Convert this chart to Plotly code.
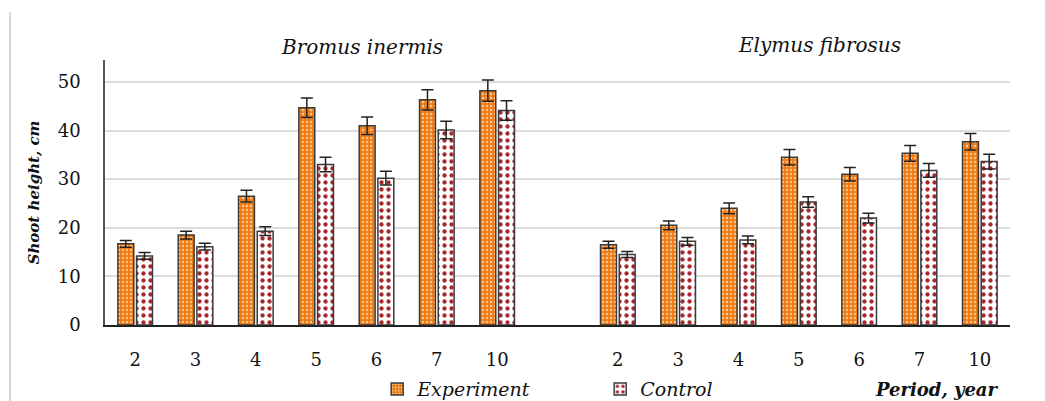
import plotly.graph_objects as go

periods = ["2", "3", "4", "5", "6", "7", "10"]
species = ["Bromus inermis", "Elymus fibrosus"]

bromus_exp = [16.7, 18.5, 26.5, 44.7, 41.0, 46.3, 48.2]
bromus_ctrl = [14.2, 16.1, 19.3, 33.0, 30.2, 40.1, 44.1]
elymus_exp = [16.5, 20.5, 24.0, 34.5, 31.0, 35.3, 37.7]
elymus_ctrl = [14.5, 17.2, 17.5, 25.3, 22.0, 31.8, 33.6]

bromus_exp_err = [0.7, 0.8, 1.2, 2.0, 1.8, 2.1, 2.2]
bromus_ctrl_err = [0.7, 0.7, 0.9, 1.5, 1.4, 1.8, 2.0]
elymus_exp_err = [0.7, 0.9, 1.1, 1.6, 1.4, 1.6, 1.7]
elymus_ctrl_err = [0.6, 0.8, 0.8, 1.1, 1.0, 1.4, 1.5]

# category positions: 7 Bromus slots, one empty slot, 7 Elymus slots
n = len(periods)
x_bromus = list(range(n))
x_elymus = [n + 1 + i for i in range(n)]
x_all = x_bromus + x_elymus
tick_text = periods + periods

exp_vals = bromus_exp + elymus_exp
ctrl_vals = bromus_ctrl + elymus_ctrl
exp_err = bromus_exp_err + elymus_exp_err
ctrl_err = bromus_ctrl_err + elymus_ctrl_err

serif = "DejaVu Serif"

fig = go.Figure()
fig.add_trace(go.Bar(
    x=x_all, y=exp_vals, name="Experiment",
    marker=dict(color="#F07A12",
                line=dict(color="#3a3a3a", width=1.5),
                pattern=dict(shape=".", fgcolor="#FBC58C", bgcolor="#F07A12",
                             size=4, solidity=0.3, fillmode="replace")),
    error_y=dict(type="data", array=exp_err, visible=True,
                 color="#222222", thickness=1.5, width=6),
))
fig.add_trace(go.Bar(
    x=x_all, y=ctrl_vals, name="Control",
    marker=dict(color="#FFFFFF",
                line=dict(color="#3a3a3a", width=1.5),
                pattern=dict(shape=".", fgcolor="#A8282E", bgcolor="#FFFFFF",
                             size=7, solidity=0.3, fillmode="replace")),
    error_y=dict(type="data", array=ctrl_err, visible=True,
                 color="#222222", thickness=1.5, width=6),
))

fig.update_layout(
    width=1037, height=393,
    margin=dict(l=97, r=35, t=52, b=76),
    paper_bgcolor="white", plot_bgcolor="white",
    barmode="group", bargap=0.38, bargroupgap=0.15,
    font=dict(family=serif, size=18, color="#111111"),
    showlegend=True,
    legend=dict(orientation="h", xref="container", yref="container",
                x=0.356, y=0.03, xanchor="left", yanchor="middle",
                font=dict(family=serif, size=19, style="italic"),
                itemwidth=30, entrywidthmode="pixels", entrywidth=178,
                bgcolor="rgba(0,0,0,0)"),
    xaxis=dict(range=[-0.5, 2 * n + 0.5], tickmode="array", tickvals=x_all,
               ticktext=tick_text, showgrid=False, ticks="", showline=True,
               linecolor="#222222", linewidth=1.5, zeroline=False,
               automargin=False,
               tickfont=dict(family=serif, size=18), ticklabelstandoff=18),
    yaxis=dict(range=[0, 54.5], tickvals=[0, 10, 20, 30, 40, 50],
               showgrid=True, gridcolor="#dcdcdc", gridwidth=1.5,
               showline=True, linecolor="#555555", linewidth=1.5,
               zeroline=False, ticks="", ticklabelstandoff=19,
               automargin=False,
               tickfont=dict(family=serif, size=18),
               title=dict(text="<b><i>Shoot height, cm</i></b>",
                          font=dict(family=serif, size=15), standoff=14)),
)

fig.add_annotation(xref="paper", yref="paper", x=0.284, y=1.05,
                   text="<i>" + species[0] + "</i>", showarrow=False,
                   font=dict(family=serif, size=20),
                   xanchor="center", yanchor="middle")
fig.add_annotation(xref="paper", yref="paper", x=0.79, y=1.057,
                   text="<i>" + species[1] + "</i>", showarrow=False,
                   font=dict(family=serif, size=20),
                   xanchor="center", yanchor="middle")
fig.add_annotation(xref="paper", yref="paper", x=0.99, y=-0.245,
                   text="<b><i>Period, year</i></b>", showarrow=False,
                   xanchor="right", yanchor="middle",
                   font=dict(family=serif, size=18))
fig.add_shape(type="line", xref="paper", yref="paper",
              x0=-0.105, x1=-0.105, y0=1.18, y1=-0.3,
              line=dict(color="#c8c8c8", width=1.5))

fig.write_html("out.html", config={"displayModeBar": False})
